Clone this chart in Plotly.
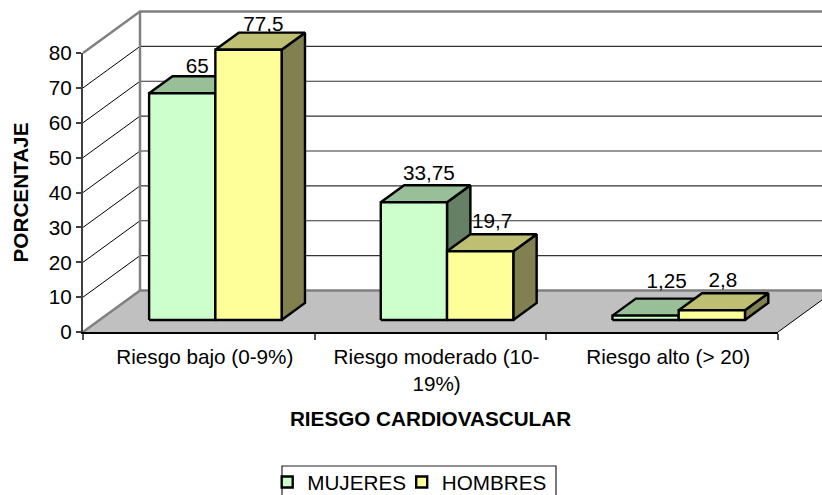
import plotly.graph_objects as go

categories = ["Riesgo bajo (0-9%)", "Riesgo moderado (10-<br>19%)", "Riesgo alto (> 20)"]
mujeres = [65, 33.75, 1.25]
hombres = [77.5, 19.7, 2.8]
y_ticks = [0, 10, 20, 30, 40, 50, 60, 70, 80]
FONT = "Liberation Sans"
FS = 20.7

# figure box (page margin removed below) and front plane of the chart, in px
FIG_W, FIG_H = 822, 502
LEFT, RIGHT, TOP, BOTTOM = 83, 778, 53, 332
PX_X = (RIGHT - LEFT) / 3
PX_Y = (BOTTOM - TOP) / 80

# oblique projection of the Excel-style 3D chart (data units per full depth)
DX, DY = 57 / PX_X, 41.5 / PX_Y
def pr(x, v, d):
    return x + d * DX, v + d * DY

def poly(corners):
    xs, ys = [], []
    for c in corners:
        x, y = pr(*c)
        xs.append(x); ys.append(y)
    return xs + [xs[0]], ys + [ys[0]]

fig = go.Figure()

def line(xs, ys, color, width):
    fig.add_trace(go.Scatter(x=xs, y=ys, mode="lines", line=dict(color=color, width=width),
                             showlegend=False, hoverinfo="skip"))

# floor
fx, fy = poly([(0, 0, 0), (3, 0, 0), (3, 0, 1), (0, 0, 1)])
fig.add_trace(go.Scatter(x=fx, y=fy, mode="lines", fill="toself", fillcolor="#C0C0C0",
                         line=dict(width=0), showlegend=False, hoverinfo="skip"))

# gridlines on side wall and back wall
for t in y_ticks[1:-1]:
    x0, y0 = pr(0, t, 0); x1, y1 = pr(0, t, 1); x2, y2 = pr(3, t, 1)
    line([x0, x1], [y0, y1], "#000000", 1)
    line([x1, x2], [y1, y1], "#333333", 1.2)

# wall edges
top = y_ticks[-1]
x0, y0 = pr(0, top, 0); x1, y1 = pr(0, top, 1); x2, y2 = pr(3, top, 1)
line([x0, x1, x2], [y0, y1, y2], "#808080", 2.5)
bx0, by0 = pr(0, 0, 0); bx1, by1 = pr(0, 0, 1); bx2, by2 = pr(3, 0, 1)
line([x1, bx1], [y1, by1], "#808080", 2.5)
line([bx0, bx1, bx2], [by0, by1, by2], "#808080", 2.5)
rx0, ry0 = pr(3, 0, 0); rx1, ry1 = pr(3, 0, 1)
line([rx0, rx1], [ry0, ry1], "#000000", 1)

# bars
GAP = 0.214
W = 0.286
D0, D1 = 0.29, 0.70
series = [
    ("MUJERES", mujeres, 0, "#CCFFCC", "#99BF99", "#668066", [1, 1, 7], [3, 5, 10], 89.5),
    ("HOMBRES", hombres, 1, "#FFFF99", "#BFBF73", "#808050", [1, -2, -3], [1, 6, 6], 110),
]

def face(xs, ys, color):
    fig.add_trace(go.Scatter(x=xs, y=ys, mode="lines", fill="toself", fillcolor=color,
                             line=dict(color="#000000", width=2.4), showlegend=False,
                             hoverinfo="skip"))

# value labels sit behind the bars (nudges in px)
for name, vals, k, front, topc, side, ndx, ndy, lw in series:
    lx, ly, lt = [], [], []
    for i, v in enumerate(vals):
        xl = i + GAP + k * W
        px, _ = pr(xl + W / 2, v, 0.535)
        _, py = pr(xl + W / 2, v, D1)
        lx.append(px + ndx[i] / PX_X); ly.append(py - 1.3 + ndy[i] / PX_Y)
        lt.append(str(v).replace(".", ","))
    fig.add_trace(go.Scatter(x=lx, y=ly, mode="text", text=lt, textposition="top center",
                             textfont=dict(family=FONT, size=FS, color="#000000"),
                             showlegend=False, hoverinfo="skip"))

for name, vals, k, front, topc, side, ndx, ndy, lw in series:
    sx, sy, tx, ty, qx, qy = [], [], [], [], [], []
    for i, v in enumerate(vals):
        xl = i + GAP + k * W
        xr = xl + W
        a, b = poly([(xr, 0, D0), (xr, 0, D1), (xr, v, D1), (xr, v, D0)])
        sx += a + [None]; sy += b + [None]
        a, b = poly([(xl, v, D0), (xr, v, D0), (xr, v, D1), (xl, v, D1)])
        tx += a + [None]; ty += b + [None]
        a, b = poly([(xl, 0, D0), (xr, 0, D0), (xr, v, D0), (xl, v, D0)])
        qx += a + [None]; qy += b + [None]
    face(sx, sy, side)
    face(tx, ty, topc)
    face(qx, qy, front)

# legend entries
for name, vals, k, front, topc, side, ndx, ndy, lw in series:
    fig.add_trace(go.Scatter(x=[None], y=[None], mode="markers", name=name, legendwidth=lw,
                             marker=dict(symbol="square", size=11, color=front,
                                         line=dict(color="#000000", width=2.4))))

# keeps the visible axes' subplot alive; nothing to draw
fig.add_trace(go.Scatter(x=[None], y=[None], xaxis="x2", yaxis="y2", mode="markers",
                         showlegend=False, hoverinfo="skip"))

tf = dict(family=FONT, size=FS, color="#000000")
fig.update_layout(
    width=FIG_W, height=FIG_H, autosize=False,
    margin=dict(l=0, r=0, t=0, b=0, autoexpand=False),
    paper_bgcolor="white", plot_bgcolor="rgba(0,0,0,0)",
    font=tf,
    legend=dict(orientation="h", x=267.2 / FIG_W, xanchor="left",
                y=0, yanchor="bottom", bgcolor="rgba(0,0,0,0)", tracegroupgap=0, font=tf),
    shapes=[dict(type="rect", xref="paper", yref="paper",
                 x0=282 / FIG_W, x1=556 / FIG_W,
                 y0=1 - 500 / FIG_H, y1=1 - 466 / FIG_H,
                 line=dict(color="#222222", width=1.2))],
    # full-canvas scale that carries the 3D drawing, same unit size as the visible axes
    xaxis=dict(domain=[0, 1], range=[-LEFT / PX_X, (FIG_W - LEFT) / PX_X], visible=False, fixedrange=True),
    yaxis=dict(domain=[0, 1], range=[-(FIG_H - BOTTOM) / PX_Y, BOTTOM / PX_Y], visible=False, fixedrange=True),
    # visible axes on the front plane
    xaxis2=dict(domain=[LEFT / FIG_W, RIGHT / FIG_W], anchor="y2", range=[0, 3], tickmode="array",
                tickvals=[0.526, 1.526, 2.526], ticktext=categories,
                ticks="", showgrid=False, zeroline=False, showline=True, linecolor="#000000", linewidth=1.5,
                tickangle=0, ticklabelstandoff=5, tickfont=tf, fixedrange=True,
                minor=dict(tickmode="array", tickvals=[0, 1, 2, 3], ticks="outside", ticklen=6,
                           tickcolor="#555555", tickwidth=1.5, showgrid=False),
                title=dict(text="<b>RIESGO CARDIOVASCULAR</b>", standoff=18, font=tf)),
    yaxis2=dict(domain=[1 - BOTTOM / FIG_H, 1 - TOP / FIG_H], anchor="x2", range=[0, 80], tickmode="array",
                tickvals=y_ticks, ticks="outside", ticklen=5,
                tickcolor="#404040", tickwidth=1.5, showgrid=False, zeroline=False, showline=True,
                linecolor="#404040", linewidth=2, tickfont=tf, fixedrange=True,
                title=dict(text="<b>PORCENTAJE</b>", standoff=15, font=tf)),
)
fig.write_html("out.html", config=dict(displayModeBar=False),
               default_width=f"{FIG_W}px", default_height=f"{FIG_H}px",
               post_script="document.documentElement.style.overflow='hidden';document.body.style.margin='0';")
